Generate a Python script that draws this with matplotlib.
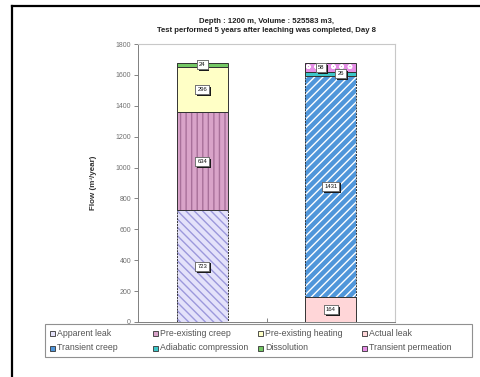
import matplotlib
matplotlib.use("Agg")
import matplotlib.pyplot as plt
from matplotlib.patches import Rectangle
from matplotlib.lines import Line2D
import matplotlib.patheffects as pe
import numpy as np

plt.rcParams['font.family'] = ['Liberation Sans', 'DejaVu Sans']
plt.rcParams['hatch.linewidth'] = 1.0

# ---- data ----
categories = ["Day 8 - before", "Day 8 - after"]
series_names = ["Apparent leak", "Pre-existing creep", "Pre-existing heating", "Actual leak",
                "Transient creep", "Adiabatic compression", "Dissolution", "Transient permeation"]
apparent_leak = [723, 0]
pre_existing_creep = [634, 0]
pre_existing_heating = [296, 0]
actual_leak = [0, 164]
transient_creep = [0, 1431]
adiabatic_compression = [0, 26]
dissolution = [24, 0]
transient_permeation = [0, 58]
series_values = [apparent_leak, pre_existing_creep, pre_existing_heating, actual_leak,
                 transient_creep, adiabatic_compression, dissolution, transient_permeation]
y_ticks = [0, 200, 400, 600, 800, 1000, 1200, 1400, 1600, 1800]

# ---- styles: face, hatch colour, hatch, outline style ----
styles = [
    dict(face="#e4e2fa", hc="#9c98dc", hatch="\\\\\\\\", ls=(0, (2, 1))),
    dict(face="#d9a3c9", hc="#a8709a", hatch="|||", ls="-"),
    dict(face="#ffffc6", hc=None, hatch=None, ls="-"),
    dict(face="#ffd6d8", hc=None, hatch=None, ls="-"),
    dict(face="#5096da", hc="#ffffff", hatch="////", ls=(0, (2, 1))),
    dict(face="#3cc6c8", hc=None, hatch=None, ls="-"),
    dict(face="#74c864", hc=None, hatch=None, ls="-"),
    dict(face="#e58ee6", hc="#ffffff", hatch="oo", ls="-"),
]
# label offsets (points) for crowded segments
label_dx = {(1, 5): 7, (1, 7): -7}

fig = plt.figure(figsize=(4.8, 3.77), dpi=100)
ax = fig.add_axes([0.2875, 0.146, 0.5355, 0.737])

shadow = [pe.withSimplePatchShadow(offset=(1.3, -1.3), shadow_rgbFace="#1a1a1a", alpha=1.0),
          pe.Normal()]

x = np.arange(len(categories))
width = 0.4
bottom = np.zeros(len(categories))
for si, (vals, st) in enumerate(zip(series_values, styles)):
    vals = np.array(vals, dtype=float)
    for ci in range(len(categories)):
        v = vals[ci]
        if v <= 0:
            continue
        ax.bar(x[ci], v, width, bottom=bottom[ci], color=st["face"],
               edgecolor=st["hc"] if st["hc"] else st["face"],
               hatch=st["hatch"], linewidth=0, zorder=2)
        ax.bar(x[ci], v, width, bottom=bottom[ci], facecolor="none",
               edgecolor="#333333", linewidth=0.7, linestyle=st["ls"], zorder=3)
        ymid = bottom[ci] + v / 2
        dx = label_dx.get((ci, si), 0)
        t = ax.annotate(f"{int(v)}", (x[ci], ymid), xytext=(dx, 0), textcoords="offset points",
                        ha="center", va="center", fontsize=4.2, color="#111111",
                        bbox=dict(boxstyle="square,pad=0.35", fc="white", ec="#555555", lw=0.5),
                        zorder=6)
        t.get_bbox_patch().set_path_effects(shadow)
    bottom += vals

ax.set_xlim(-0.5, 1.5)
ax.set_ylim(0, 1800)
ax.set_yticks(y_ticks)
ax.set_yticklabels([str(t) for t in y_ticks])
ax.set_xticks([0.5])
ax.set_xticklabels([""])
ax.tick_params(axis="y", labelsize=5, colors="#707070", length=3, width=0.6, pad=2)
ax.tick_params(axis="x", length=3, width=0.6, colors="#707070", direction="in")
for s in ["left", "bottom"]:
    ax.spines[s].set_color("#808080")
    ax.spines[s].set_linewidth(0.7)
for s in ["top", "right"]:
    ax.spines[s].set_color("#c8c8c8")
    ax.spines[s].set_linewidth(0.8)

ax.set_ylabel("Flow (m³/year)", fontsize=5.8, fontweight="bold", color="#333333", labelpad=13)
ax.set_title("Depth : 1200 m, Volume : 525583 m3,\nTest performed 5 years after leaching was completed, Day 8",
             fontsize=5.6, fontweight="bold", color="#222222", pad=9, linespacing=1.35)

# legend: framed box with 4 equal columns, 2 rows (row-major series order)
W, H = 480.0, 377.0
fig.add_artist(Rectangle((45 / W, 1 - 357 / H), 427 / W, 33 / H, transform=fig.transFigure,
                         facecolor="white", edgecolor="#909090", linewidth=0.8))
col_x = [50, 153, 258, 362]
row_y = [333, 348]
sw = 5.0
for i, (name, st) in enumerate(zip(series_names, styles)):
    r, c = divmod(i, 4)
    x0, yc = col_x[c], row_y[r]
    fig.add_artist(Rectangle((x0 / W, 1 - (yc + sw / 2) / H), sw / W, sw / H,
                             transform=fig.transFigure, facecolor=st["face"],
                             edgecolor="#333333", linewidth=0.6))
    fig.text((x0 + sw + 2) / W, 1 - yc / H, name, fontsize=6.3, color="#555555",
             ha="left", va="center")

# outer frame lines
fig.add_artist(Line2D([0.026, 0.026], [0.0, 0.985], transform=fig.transFigure, color="black", lw=1.6))
fig.add_artist(Line2D([0.026, 1.0], [0.985, 0.985], transform=fig.transFigure, color="black", lw=1.6))

fig.savefig("out.png", dpi=100)
